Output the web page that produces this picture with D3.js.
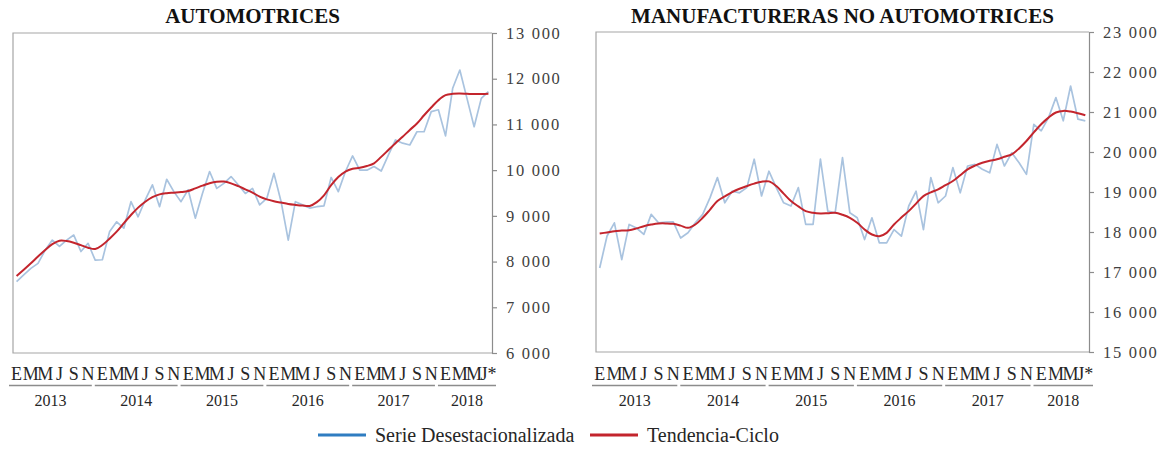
<!DOCTYPE html>
<html>
<head>
<meta charset="utf-8">
<script src="https://cdn.jsdelivr.net/npm/d3@7/dist/d3.min.js"></script>
<style>
  body { margin: 0; background: #fff; }
  svg text { font-family: "Liberation Serif", "Times New Roman", serif; }
</style>
</head>
<body>
<svg id="chart" width="1163" height="452" font-family="Liberation Serif, serif"></svg>
<script>
"use strict";
//months Jan 2013 .. Jul 2018
var years = [2013, 2014, 2015, 2016, 2017, 2018];
var monthLetters = ["E", "F", "M", "A", "M", "J", "J", "A", "S", "O", "N", "D"];
var lastMonths = 7; //2018 ends in July (preliminary)

var autoSerie = [7560, 7710, 7850, 7960, 8250, 8470, 8330, 8470, 8580, 8220, 8400, 8030,
  8040, 8650, 8870, 8730, 9310, 8980, 9350, 9680, 9200, 9800, 9530, 9310,
  9570, 8950, 9490, 9970, 9600, 9710, 9860, 9680, 9490, 9600, 9240, 9380,
  9930, 9310, 8470, 9310, 9240, 9170, 9200, 9220, 9840, 9530, 9970, 10310,
  10000, 10000, 10080, 9980, 10330, 10660, 10590, 10550, 10840, 10840, 11280, 11320,
  10750, 11790, 12190, 11570, 10950, 11570, 11720];
var autoTend = [7684, 7820, 7961, 8110, 8253, 8380, 8457, 8450, 8413, 8360, 8304, 8275,
  8362, 8500, 8654, 8840, 9018, 9180, 9310, 9410, 9470, 9495, 9507, 9520,
  9543, 9600, 9660, 9715, 9747, 9750, 9711, 9650, 9580, 9510, 9420, 9360,
  9320, 9290, 9260, 9240, 9224, 9217, 9300, 9450, 9670, 9850, 9970, 10030,
  10050, 10090, 10150, 10290, 10440, 10590, 10730, 10880, 11020, 11200, 11370, 11530,
  11640, 11670, 11675, 11670, 11665, 11665, 11670];

var manuSerie = [17100, 17900, 18230, 17310, 18190, 18100, 17940, 18440, 18230, 18250, 18255, 17850,
  17980, 18230, 18440, 18860, 19360, 18730, 19020, 18980, 19110, 19820, 18900, 19520,
  19110, 18730, 18650, 19110, 18190, 18190, 19820, 18520, 18480, 19860, 18480, 18355,
  17810, 18355, 17730, 17730, 18060, 17895, 18650, 19020, 18060, 19360, 18730, 18900,
  19610, 18980, 19650, 19690, 19570, 19480, 20190, 19650, 19980, 19730, 19440, 20690,
  20530, 20860, 21360, 20780, 21650, 20820, 20780];
var manuTend = [17962, 17990, 18021, 18035, 18046, 18090, 18146, 18185, 18213, 18215, 18205, 18160,
  18104, 18188, 18355, 18560, 18773, 18890, 18998, 19080, 19148, 19210, 19257, 19265,
  19148, 18960, 18773, 18640, 18522, 18480, 18464, 18470, 18480, 18430, 18355, 18230,
  18063, 17937, 17895, 17979, 18188, 18360, 18522, 18710, 18898, 18990, 19065, 19170,
  19274, 19420, 19566, 19660, 19733, 19780, 19817, 19880, 19942, 20090, 20276, 20490,
  20694, 20860, 20987, 21028, 21011, 20970, 20920];

var autoTicks = [6000, 7000, 8000, 9000, 10000, 11000, 12000, 13000];
var manuTicks = [15000, 16000, 17000, 18000, 19000, 20000, 21000, 22000, 23000];

var legendItems = ["Serie Desestacionalizada", "Tendencia-Ciclo"];

//build month categories
var months = [];
years.forEach(function(yr, yi) {
  var n = yi === years.length - 1 ? lastMonths : 12;
  for (var m = 0; m < n; m++) {
    months.push({ i: months.length, year: yr, m: m, letter: monthLetters[m] });
  }
});

var serieColor = "#a9c3df",
  tendColor = "#c3252d",
  legendBlue = "#2f7dc1";

var svg = d3.select("#chart");

var panels = [
  { title: "AUTOMOTRICES", serie: autoSerie, tend: autoTend, ticks: autoTicks,
    x0: 13, x1: 492, y0: 33, y1: 353 },
  { title: "MANUFACTURERAS NO AUTOMOTRICES", serie: manuSerie, tend: manuTend, ticks: manuTicks,
    x0: 596, x1: 1089, y0: 32, y1: 352 }
];

var fmt = function(d) {
  return d3.format(",")(d).replace(",", " ");
};

panels.forEach(function(p) {
  var g = svg.append("g");

  var x = d3.scaleBand()
    .domain(months.map(function(d) { return d.i; }))
    .range([p.x0, p.x1]);
  var y = d3.scaleLinear()
    .domain(d3.extent(p.ticks))
    .range([p.y1, p.y0]);
  var cx = function(i) { return x(i) + x.bandwidth() / 2; };

  //title
  g.append("text")
    .attr("x", (p.x0 + p.x1) / 2)
    .attr("y", 23)
    .attr("text-anchor", "middle")
    .attr("fill", "#111")
    .style("font-size", "21px")
    .style("font-weight", "bold")
    .text(p.title);

  //frame: left, top, bottom
  g.append("path")
    .attr("d", "M" + p.x1 + "," + p.y0 + "H" + p.x0 + "V" + p.y1 + "H" + p.x1)
    .attr("fill", "none")
    .attr("stroke", "#a6a6a6")
    .attr("stroke-width", 1.2);

  //right value axis
  var ax = g.append("g")
    .attr("transform", "translate(" + p.x1 + ",0)")
    .call(d3.axisRight(y).tickValues(p.ticks).tickSize(5).tickSizeOuter(0)
      .tickPadding(9).tickFormat(fmt));
  ax.attr("font-family", null).attr("font-size", null);
  ax.select(".domain").attr("stroke", "#8c8c8c").attr("stroke-width", 1.2);
  ax.selectAll(".tick line").attr("stroke", "#8c8c8c").attr("stroke-width", 1.2);
  ax.selectAll(".tick text")
    .attr("fill", "#404040")
    .style("font-size", "16.5px")
    .style("letter-spacing", "1.7px");

  //lines
  var line = d3.line()
    .x(function(d, i) { return cx(i); })
    .y(function(d) { return y(d); });

  g.append("path")
    .datum(p.serie)
    .attr("d", line)
    .attr("fill", "none")
    .attr("stroke", serieColor)
    .attr("stroke-width", 1.7)
    .attr("stroke-linejoin", "round");

  g.append("path")
    .datum(p.tend)
    .attr("d", line.curve(d3.curveCatmullRom))
    .attr("fill", "none")
    .attr("stroke", tendColor)
    .attr("stroke-width", 2);

  //month letters, every other month
  g.selectAll(".mlab")
    .data(months.filter(function(d) { return d.m % 2 === 0; }))
    .enter()
    .append("text")
    .attr("class", "mlab")
    .attr("x", function(d) { return cx(d.i); })
    .attr("y", 380)
    .attr("text-anchor", "middle")
    .attr("fill", "#262626")
    .style("font-size", "18px")
    .text(function(d) {
      return d.i === months.length - 1 ? d.letter + "*" : d.letter;
    });

  //year groups
  years.forEach(function(yr) {
    var ms = months.filter(function(d) { return d.year === yr; });
    var first = ms[0].i,
      last = ms[ms.length - 1].i;
    var lx0 = x(first) - 4,
      lx1 = x(last) + x.bandwidth() - 7;
    if (last === months.length - 1) lx1 = x(last) + x.bandwidth() + 4;
    g.append("line")
      .attr("x1", lx0)
      .attr("x2", lx1)
      .attr("y1", 385.5)
      .attr("y2", 385.5)
      .attr("stroke", "#8c8c8c")
      .attr("stroke-width", 1.3);
    g.append("text")
      .attr("x", (lx0 + lx1) / 2)
      .attr("y", 406)
      .attr("text-anchor", "middle")
      .attr("fill", "#262626")
      .style("font-size", "16px")
      .text(yr);
  });
});

//legend
var legend = svg.append("g");
var legendX = [318, 590];
var legendColors = [legendBlue, tendColor];
legendItems.forEach(function(name, i) {
  legend.append("line")
    .attr("x1", legendX[i])
    .attr("x2", legendX[i] + 48)
    .attr("y1", 435)
    .attr("y2", 435)
    .attr("stroke", legendColors[i])
    .attr("stroke-width", 3);
  legend.append("text")
    .attr("x", legendX[i] + 57)
    .attr("y", 442)
    .attr("fill", "#262626")
    .style("font-size", "20px")
    .text(name);
});
</script>
</body>
</html>
